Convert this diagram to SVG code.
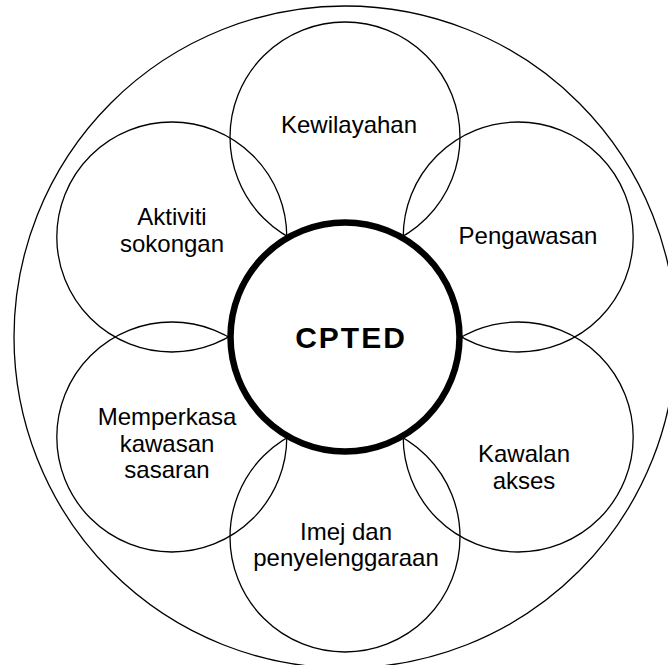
<svg xmlns="http://www.w3.org/2000/svg" width="668" height="665" viewBox="0 0 668 665">
<style>
.ring{fill:none;stroke:#000;stroke-width:1.3}
.core{fill:#fff;stroke:#000;stroke-width:6.5}
.lbl{font-family:"Liberation Sans",Arial,sans-serif;font-size:24px;fill:#000;text-anchor:middle}
.title{font-family:"Liberation Sans",Arial,sans-serif;font-size:30px;font-weight:bold;letter-spacing:2px;fill:#000;text-anchor:middle}
</style>
<rect width="668" height="665" fill="#fff"/>
<g id="outer"><circle class="ring" cx="345" cy="337" r="331"/></g>
<g id="kewilayahan"><circle class="ring" cx="345" cy="137" r="115"/><text class="lbl" x="349" y="133">Kewilayahan</text></g>
<g id="pengawasan"><circle class="ring" cx="518.2" cy="237" r="115"/><text class="lbl" x="528" y="244">Pengawasan</text></g>
<g id="kawalan"><circle class="ring" cx="518.2" cy="437" r="115"/><text class="lbl" x="524" y="462">Kawalan</text><text class="lbl" x="524" y="489">akses</text></g>
<g id="imej"><circle class="ring" cx="345" cy="537" r="115"/><text class="lbl" x="346" y="540">Imej dan</text><text class="lbl" x="346" y="566">penyelenggaraan</text></g>
<g id="memperkasa"><circle class="ring" cx="171.8" cy="437" r="115"/><text class="lbl" x="167" y="425">Memperkasa</text><text class="lbl" x="167" y="452">kawasan</text><text class="lbl" x="167" y="478">sasaran</text></g>
<g id="aktiviti"><circle class="ring" cx="171.8" cy="237" r="115"/><text class="lbl" x="172" y="225">Aktiviti</text><text class="lbl" x="172" y="252">sokongan</text></g>
<g id="connectors"></g>
<g id="cpted"><circle class="core" cx="345" cy="337" r="114.5"/><text class="title" x="351" y="348">CPTED</text></g>
</svg>
